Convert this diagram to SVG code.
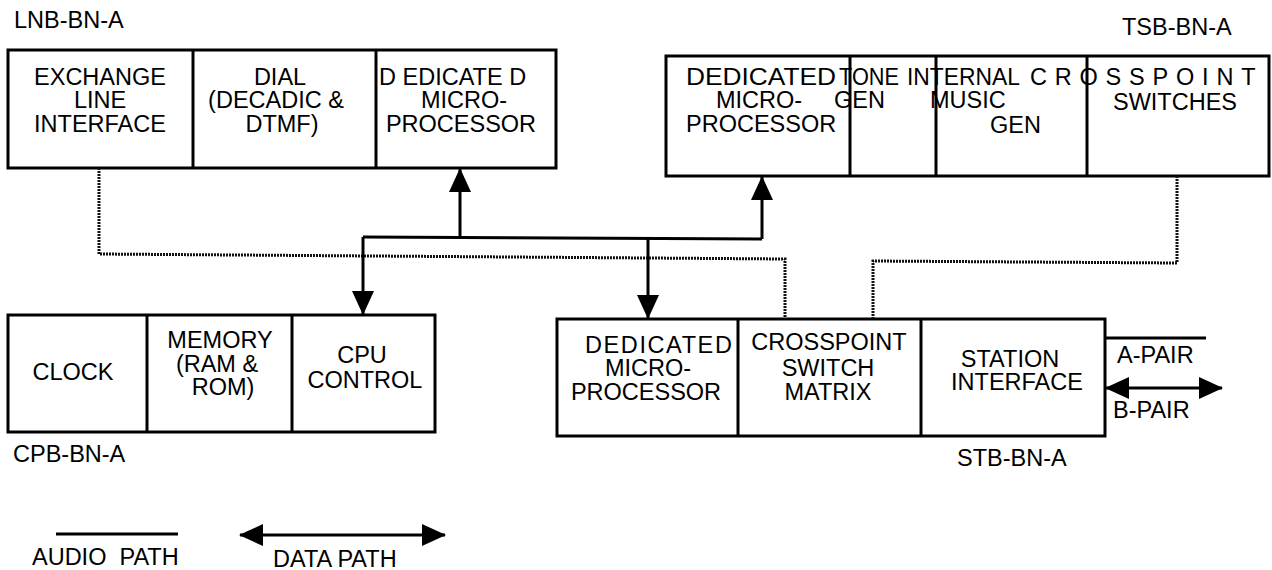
<svg xmlns="http://www.w3.org/2000/svg" width="1272" height="570" viewBox="0 0 1272 570">
  <defs>
    <style>
      text { font-family: "Liberation Sans", Arial, sans-serif; font-size: 23.5px; fill: #000; }
      .c { text-anchor: middle; }
      .box { fill: #fff; stroke: #000; stroke-width: 3; }
      .div { stroke: #000; stroke-width: 3; fill: none; }
      .data { stroke: #000; stroke-width: 3; fill: none; }
      .audio { stroke: #111; stroke-width: 3; fill: none; stroke-dasharray: 2 1; }
      .solid { stroke: #000; stroke-width: 3; fill: none; }
    </style>
    <marker id="head" markerUnits="userSpaceOnUse" markerWidth="24" markerHeight="24" viewBox="0 0 24 24" refX="23" refY="12" orient="auto-start-reverse">
      <path d="M0,1 L24,12 L0,23 z" fill="#000"/>
    </marker>
  </defs>

  <!-- Line board -->
  <g id="lnb">
    <text x="14" y="28">LNB-BN-A</text>
    <rect class="box" x="8" y="50" width="548" height="118"/>
    <line class="div" x1="193" y1="50" x2="193" y2="168"/>
    <line class="div" x1="376" y1="50" x2="376" y2="168"/>
    <g id="lnb-exchange">
      <text class="c" x="100" y="85">EXCHANGE</text>
      <text class="c" x="100" y="108">LINE</text>
      <text class="c" x="100" y="132">INTERFACE</text>
    </g>
    <g id="lnb-dial">
      <text class="c" x="280" y="85">DIAL</text>
      <text class="c" x="276" y="108">(DECADIC &amp;</text>
      <text class="c" x="282" y="132">DTMF)</text>
    </g>
    <g id="lnb-micro">
      <text x="379" y="85">D EDICATE D</text>
      <text class="c" x="464" y="108">MICRO-</text>
      <text class="c" x="461" y="132">PROCESSOR</text>
    </g>
  </g>

  <!-- Tone / switch board -->
  <g id="tsb">
    <text x="1122" y="35">TSB-BN-A</text>
    <rect class="box" x="666" y="56" width="603" height="120"/>
    <line class="div" x1="850" y1="56" x2="850" y2="176"/>
    <line class="div" x1="936" y1="56" x2="936" y2="176"/>
    <line class="div" x1="1087" y1="56" x2="1087" y2="176"/>
    <g id="tsb-micro">
      <text x="686" y="85" textLength="150" lengthAdjust="spacingAndGlyphs">DEDICATED</text>
      <text x="716" y="108">MICRO-</text>
      <text x="686" y="132">PROCESSOR</text>
    </g>
    <g id="tsb-tone">
      <text x="839" y="85" textLength="60" lengthAdjust="spacingAndGlyphs">TONE</text>
      <text x="834" y="108">GEN</text>
    </g>
    <g id="tsb-music">
      <text x="907" y="85" textLength="113" lengthAdjust="spacingAndGlyphs">INTERNAL</text>
      <text x="930" y="108">MUSIC</text>
      <text x="990" y="133">GEN</text>
    </g>
    <g id="tsb-switches">
      <text x="1030" y="85" letter-spacing="7.8">CROSSPOINT</text>
      <text class="c" x="1175" y="110">SWITCHES</text>
    </g>
  </g>

  <!-- Central processor board -->
  <g id="cpb">
    <rect class="box" x="8" y="315" width="427" height="117"/>
    <line class="div" x1="147" y1="315" x2="147" y2="432"/>
    <line class="div" x1="292" y1="315" x2="292" y2="432"/>
    <g id="cpb-clock">
      <text class="c" x="73" y="380">CLOCK</text>
    </g>
    <g id="cpb-memory">
      <text class="c" x="220" y="348">MEMORY</text>
      <text class="c" x="217" y="372">(RAM &amp;</text>
      <text class="c" x="223" y="395">ROM)</text>
    </g>
    <g id="cpb-cpu">
      <text class="c" x="362" y="363">CPU</text>
      <text class="c" x="365" y="388">CONTROL</text>
    </g>
    <text x="13" y="462">CPB-BN-A</text>
  </g>

  <!-- Station board -->
  <g id="stb">
    <rect class="box" x="557" y="319" width="548" height="117"/>
    <line class="div" x1="738" y1="319" x2="738" y2="436"/>
    <line class="div" x1="921" y1="319" x2="921" y2="436"/>
    <g id="stb-micro">
      <text x="585" y="353" letter-spacing="1.6">DEDICATED</text>
      <text class="c" x="648" y="376">MICRO-</text>
      <text class="c" x="646" y="400">PROCESSOR</text>
    </g>
    <g id="stb-matrix">
      <text class="c" x="829" y="350">CROSSPOINT</text>
      <text class="c" x="828" y="376">SWITCH</text>
      <text class="c" x="828" y="400">MATRIX</text>
    </g>
    <g id="stb-station">
      <text class="c" x="1010" y="367">STATION</text>
      <text class="c" x="1017" y="390">INTERFACE</text>
    </g>
    <text x="957" y="466">STB-BN-A</text>
    <g id="stb-pairs">
      <text x="1117" y="363">A-PAIR</text>
      <text x="1113" y="418">B-PAIR</text>
    </g>
  </g>

  <!-- Connectors -->
  <g id="connectors">
    <!-- audio paths -->
    <polyline class="audio" points="99,168 99,254 785,259 785,319"/>
    <polyline class="audio" points="1177,176 1177,263 873,261 873,319"/>
    <!-- data bus -->
    <line class="data" x1="363" y1="237" x2="762" y2="239"/>
    <line class="data" x1="460" y1="238" x2="460" y2="169" marker-end="url(#head)"/>
    <line class="data" x1="762" y1="239" x2="762" y2="177" marker-end="url(#head)"/>
    <line class="data" x1="363" y1="237" x2="363" y2="314" marker-end="url(#head)"/>
    <line class="data" x1="648" y1="238" x2="648" y2="318" marker-end="url(#head)"/>
    <!-- station line pair -->
    <line class="solid" x1="1105" y1="338" x2="1206" y2="338"/>
    <line class="data" x1="1106" y1="388" x2="1222" y2="388" marker-start="url(#head)" marker-end="url(#head)"/>
  </g>

  <!-- Legend -->
  <g id="legend">
    <line class="solid" x1="56" y1="534" x2="178" y2="534"/>
    <text x="32" y="565" xml:space="preserve">AUDIO  PATH</text>
    <line class="data" x1="240" y1="535" x2="445" y2="535" marker-start="url(#head)" marker-end="url(#head)"/>
    <text x="273" y="567">DATA PATH</text>
  </g>
</svg>
